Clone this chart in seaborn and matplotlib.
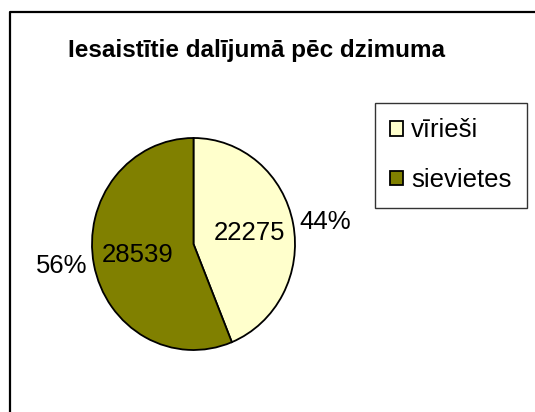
import matplotlib
matplotlib.use("Agg")
import matplotlib.pyplot as plt
import seaborn as sns
from matplotlib.lines import Line2D

categories = ["vīrieši", "sievietes"]
values = [22275, 28539]
pct_labels = ["44%", "56%"]
colors = ["#FFFFCC", "#808000"]
title = "Iesaistītie dalījumā pēc dzimuma"

sns.set_style("white")
plt.rcParams["font.family"] = ["Liberation Sans", "DejaVu Sans"]
plt.rcParams["text.color"] = "black"

W, H = 535, 412
fig = plt.figure(figsize=(W / 100, H / 100), dpi=100)

# outer chart frame (only top/left edges visible)
fx, fy = 10 / W, 1 - 12 / H
fig.add_artist(Line2D([fx, fx, 1.01], [-0.01, fy, fy], transform=fig.transFigure,
                      color="black", linewidth=1.6, solid_joinstyle="round"))

cx, cy, rx, ry = 193.5, 244, 101.5, 106
ax = fig.add_axes([(cx - rx) / W, 1 - (cy + ry) / H, 2 * rx / W, 2 * ry / H])
wedges, texts, autotexts = ax.pie(
    values, labels=pct_labels, colors=colors, startangle=90, counterclock=False,
    autopct=lambda p: f"{round(p * sum(values) / 100):d}", pctdistance=0.56,
    labeldistance=1.06,
    wedgeprops=dict(edgecolor="black", linewidth=1.3),
    textprops=dict(fontsize=18.5, color="black"))
ax.set_xlim(-1, 1)
ax.set_ylim(-1, 1)
ax.set_aspect("auto")
ax.axis("off")

fig.text(256 / W, 1 - 50 / H, title, ha="center", va="center",
         fontsize=17.5, fontweight="bold", color="black")

leg = fig.legend(wedges, categories, loc="upper left",
                 bbox_to_anchor=(375 / W, 1 - 103 / H), borderaxespad=0,
                 fontsize=18.5, frameon=True, fancybox=False, edgecolor="black",
                 handlelength=0.5, handleheight=0.5, handletextpad=0.3,
                 labelspacing=1.0, borderpad=0.6, labelcolor="black")
leg.get_frame().set_linewidth(1.0)
for h in leg.legend_handles:
    h.set_edgecolor("black")
    h.set_linewidth(1.3)

fig.savefig("out.png", dpi=100)
